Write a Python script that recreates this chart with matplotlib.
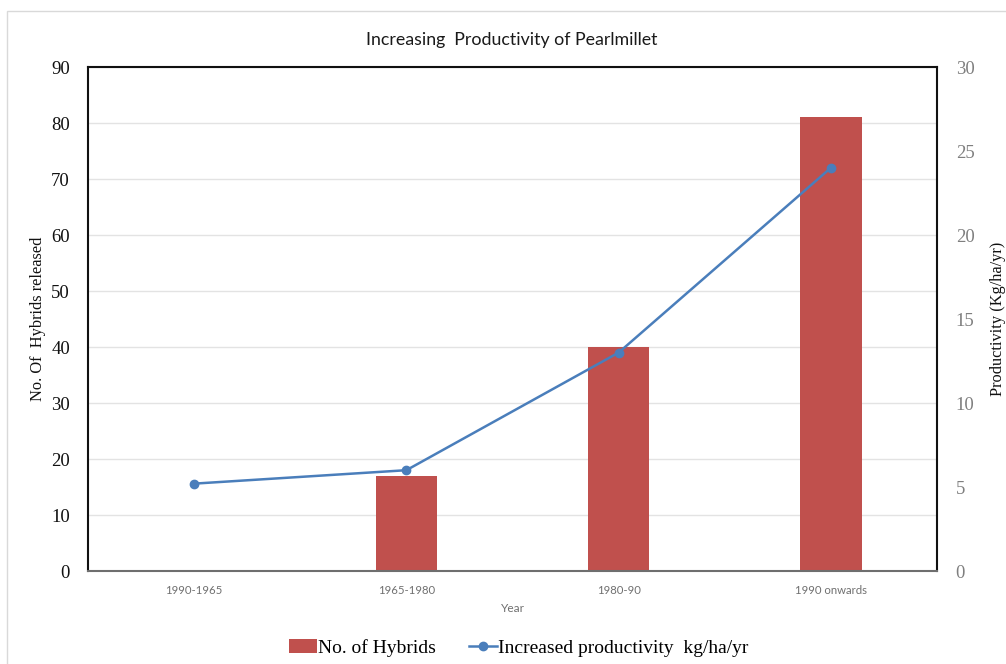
import matplotlib
matplotlib.use("Agg")
import matplotlib.pyplot as plt
from matplotlib.patches import Rectangle, Patch
from matplotlib.lines import Line2D

# Data
periods = ["1990-1965", "1965-1980", "1980-90", "1990 onwards"]
hybrids_released = [0, 17, 40, 81]
productivity_gain = [5.2, 6.0, 13.0, 24.0]

bar_color = "#C0504D"
line_color = "#4A7EBB"
serif = "Liberation Serif"
sans = "Lato"

W, H = 1006, 664
fig = plt.figure(figsize=(W / 100, H / 100), dpi=100)
fig.patch.set_facecolor("white")

# light frame around the chart area
fig.add_artist(Rectangle((7 / W, -0.1), 1.2, 1 - 11 / H + 0.1,
                         transform=fig.transFigure, fill=False,
                         edgecolor="#D9D9D9", linewidth=1.0))

left, right, top, bottom = 88, 937, 67, 571
ax = fig.add_axes([left / W, 1 - bottom / H, (right - left) / W, (bottom - top) / H])
ax2 = ax.twinx()

x = list(range(len(periods)))
ax.bar(x, hybrids_released, width=0.29, color=bar_color, zorder=2)
ax2.plot(x, productivity_gain, color=line_color, linewidth=1.8,
         marker="o", markersize=6, zorder=3)

ax.set_xlim(-0.5, len(periods) - 0.5)
ax.set_ylim(0, 90)
ax2.set_ylim(0, 30)
ax.set_yticks(range(0, 91, 10))
ax2.set_yticks(range(0, 31, 5))

ax.set_axisbelow(True)
ax.yaxis.grid(True, color="#E3E3E3", linewidth=1.0)
ax.xaxis.grid(False)

ax.set_xticks(x)
ax.set_xticklabels(periods, fontfamily=sans, fontsize=8.2, color="#707070")
ax.tick_params(axis="x", length=0, pad=10)
ax.tick_params(axis="y", length=0, pad=13, labelsize=13.5, labelcolor="#111111")
ax2.tick_params(axis="y", length=0, pad=13.5, labelsize=13.5, labelcolor="#7F7F7F")
for lab in ax.get_yticklabels() + ax2.get_yticklabels():
    lab.set_fontfamily(serif)

for side in ["top", "left", "right"]:
    ax.spines[side].set_color("#111111")
    ax.spines[side].set_linewidth(1.5)
ax.spines["bottom"].set_color("#6E6E6E")
ax.spines["bottom"].set_linewidth(1.5)
for side in ax2.spines:
    ax2.spines[side].set_visible(False)

ax.set_xlabel("Year", fontfamily=sans, fontsize=8.6, color="#707070", labelpad=5)
ax.set_ylabel("No. Of  Hybrids released", fontfamily=serif, fontsize=11.8,
              color="#111111", labelpad=4)
ax2.set_ylabel("Productivity (Kg/ha/yr)", fontfamily=serif, fontsize=11.8,
               color="#111111", labelpad=11)

fig.text(512 / W, 1 - 40 / H, "Increasing  Productivity of Pearlmillet",
         fontfamily=sans, fontsize=12.8, color="#1A1A1A", ha="center", va="center")

handles = [Patch(facecolor=bar_color, edgecolor="none"),
           Line2D([0], [0], color=line_color, linewidth=1.8, marker="o", markersize=6)]
fig.legend(handles, ["No. of Hybrids", "Increased productivity  kg/ha/yr"],
           loc="center", bbox_to_anchor=(519 / W, 1 - 648 / H), ncol=2,
           frameon=False, prop={"family": serif, "size": 14},
           handlelength=1.45, handletextpad=0.05, columnspacing=1.7)

fig.savefig("out.png", dpi=100)
